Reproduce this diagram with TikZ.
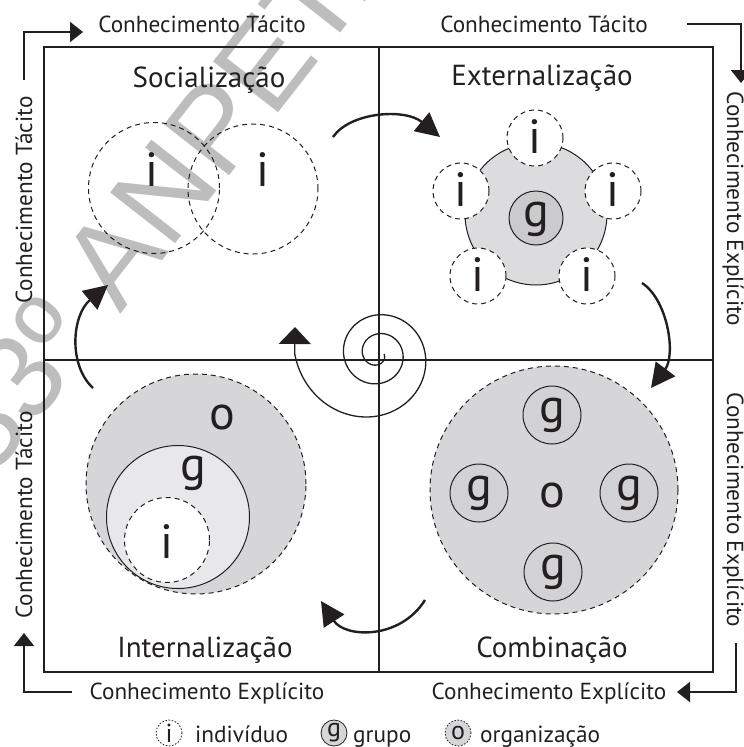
\documentclass[tikz,border=0pt]{standalone}
\usepackage{fontspec}
\setmainfont{PT Sans}
\newfontfamily\wmfont{Liberation Sans}
\usetikzlibrary{arrows.meta}
\definecolor{ink}{HTML}{231F20}
\definecolor{orgfill}{HTML}{D6D6D8}
\definecolor{grpfill}{HTML}{E8E8EA}
\definecolor{extfill}{HTML}{DCDCDE}
\definecolor{extg}{HTML}{CBCBCD}
\definecolor{cgfill}{HTML}{D2D2D4}
\definecolor{wmark}{HTML}{BDBDBD}
\begin{document}
\begin{tikzpicture}[x=1pt,y=-1pt,
  frame/.style={draw=ink, line width=1.3pt},
  axisarr/.style={draw=ink, line width=2pt, line join=miter, -{Triangle[width=20pt,length=13pt]}},
  cyclearr/.style={draw=ink, line width=2.4pt, -{Triangle[width=24pt,length=24pt]}},
  spiralarr/.style={draw=ink, line width=1.3pt, -{Triangle[width=32pt,length=17pt]}},
  dashring/.style={circle, draw=ink, line width=1pt, dash pattern=on 5pt off 4pt, inner sep=0pt},
  solidring/.style={circle, draw=ink, line width=1pt, inner sep=0pt},
  axlabel/.style={font=\fontsize{23.2}{27}\selectfont, text=ink, inner sep=0pt},
  quadtitle/.style={font=\fontsize{29}{34}\selectfont, text=ink, inner sep=0pt, anchor=base},
  bigletter/.style={font=\fontsize{48}{56}\selectfont, text=ink, inner sep=0pt},
  legtext/.style={font=\fontsize{23.3}{27}\selectfont, text=ink, inner sep=0pt, anchor=base west},
  legring/.style={circle, minimum size=26pt, inner sep=0pt, font=\fontsize{26}{30}\selectfont, text=ink},
  wm/.style={font=\wmfont\fontsize{120}{130}\selectfont, text=wmark, inner sep=0pt}
]
\useasboundingbox (0,0) rectangle (744,747);

% ---------- watermark (background) ----------
\node[wm, anchor=base west, rotate=52] (wmk) at (-9,481) {33º ANPET: Vo};

% ---------- frame ----------
\coordinate (fTL) at (44,47);
\coordinate (fBR) at (713,672);
\coordinate (vT) at (379,47);
\coordinate (vB) at (379,672);
\coordinate (hL) at (44,360);
\coordinate (hR) at (713,360);
\draw[frame] (fTL) rectangle (fBR);
\draw[frame] (vT) -- (vB);
\draw[frame] (hL) -- (hR);

% ---------- outer axis arrows ----------
\coordinate (a1a) at (24,80);  \coordinate (a1b) at (24,32);  \coordinate (a1c) at (83,32);
\draw[axisarr] (a1a) -- (a1b) -- (a1c);
\coordinate (a2a) at (687,24); \coordinate (a2b) at (741,24); \coordinate (a2c) at (741,83);
\draw[axisarr] (a2a) -- (a2b) -- (a2c);
\coordinate (a3a) at (736,643); \coordinate (a3b) at (736,692); \coordinate (a3c) at (677,692);
\draw[axisarr] (a3a) -- (a3b) -- (a3c);
\coordinate (a4a) at (72,692); \coordinate (a4b) at (24,692); \coordinate (a4c) at (24,633);
\draw[axisarr] (a4a) -- (a4b) -- (a4c);

% ---------- axis labels ----------
\node[axlabel, anchor=base] (lt1) at (202,32) {Conhecimento Tácito};
\node[axlabel, anchor=base] (lt2) at (544,32) {Conhecimento Tácito};
\node[axlabel, anchor=base] (lb1) at (207,699) {Conhecimento Explícito};
\node[axlabel, anchor=base] (lb2) at (549,699) {Conhecimento Explícito};
\node[axlabel, anchor=base, rotate=90] (ll1) at (32,200) {Conhecimento Tácito};
\node[axlabel, anchor=base, rotate=90] (ll2) at (32,515) {Conhecimento Tácito};
\node[axlabel, anchor=base, rotate=-90] (lr1) at (727,209) {Conhecimento Explícito};
\node[axlabel, anchor=base, rotate=-90] (lr2) at (727,510) {Conhecimento Explícito};

% ---------- quadrant titles ----------
\node[quadtitle] (tsoc) at (209,87) {Socialização};
\node[quadtitle] (text) at (542,85) {Externalização};
\node[quadtitle] (tint) at (205,657) {Internalização};
\node[quadtitle] (tcom) at (552,657) {Combinação};

% ---------- Socialização ----------
\node[dashring, minimum size=131pt] (s1) at (154,188) {};
\node[dashring, minimum size=130pt] (s2) at (253,189) {};
\node[bigletter] (s1i) at (152,170) {i};
\node[bigletter] (s2i) at (263,170) {i};

% ---------- Externalização ----------
\node[circle, draw=ink, line width=1pt, fill=extfill, minimum size=142pt, inner sep=0pt] (edisk) at (536,214) {};
\node[dashring, fill=white, minimum size=56pt] (e1) at (535,138) {};
\node[dashring, fill=white, minimum size=56pt] (e2) at (461,191) {};
\node[dashring, fill=white, minimum size=56pt] (e3) at (613,191) {};
\node[dashring, fill=white, minimum size=56pt] (e4) at (478,276) {};
\node[dashring, fill=white, minimum size=56pt] (e5) at (587,276) {};
\node[bigletter] (e1i) at (535,137) {i};
\node[bigletter] (e2i) at (461,190) {i};
\node[bigletter] (e3i) at (613,190) {i};
\node[bigletter] (e4i) at (478,275) {i};
\node[bigletter] (e5i) at (587,275) {i};
\node[solidring, fill=extg, minimum size=54pt] (eg) at (536,218) {};
\node[bigletter] (egt) at (536,219) {g};

% ---------- Combinação ----------
\node[dashring, fill=orgfill, minimum size=248pt] (co) at (554,490) {};
\node[solidring, fill=cgfill, minimum size=58pt] (cg1) at (552,415) {};
\node[solidring, fill=cgfill, minimum size=58pt] (cg2) at (479,493) {};
\node[solidring, fill=cgfill, minimum size=58pt] (cg3) at (629,493) {};
\node[solidring, fill=cgfill, minimum size=58pt] (cg4) at (553,572) {};
\node[bigletter] (cg1t) at (552,415) {g};
\node[bigletter] (cg2t) at (479,493) {g};
\node[bigletter] (cg3t) at (629,493) {g};
\node[bigletter] (cg4t) at (553,572) {g};
\node[bigletter] (cot) at (552,495) {o};

% ---------- Internalização ----------
\node[dashring, fill=orgfill, minimum size=220pt] (io) at (196,484) {};
\node[solidring, fill=grpfill, minimum size=143pt] (ig) at (178,517) {};
\node[dashring, fill=white, minimum size=85pt] (ii) at (167,540) {};
\node[bigletter] (iot) at (222,417) {o};
\node[bigletter] (igt) at (193,473) {g};
\node[bigletter] (iit) at (167,542) {i};

% ---------- cycle arrows ----------
\coordinate (c1s) at (333,137); \coordinate (c1e) at (440,137);
\draw[cyclearr] (c1s) .. controls (350,112) and (405,108) .. (c1e);
\coordinate (c2s) at (642,283); \coordinate (c2e) at (651,388);
\draw[cyclearr] (c2s) .. controls (668,300) and (676,355) .. (c2e);
\coordinate (c3s) at (425,600); \coordinate (c3e) at (321,601);
\draw[cyclearr] (c3s) .. controls (400,640) and (345,638) .. (c3e);
\coordinate (c4s) at (93,388); \coordinate (c4e) at (108,285);
\draw[cyclearr] (c4s) .. controls (68,365) and (72,315) .. (c4e);

% ---------- spiral ----------
\coordinate (spc) at (378,354);
\coordinate (spe) at (295,327);
\draw[spiralarr] plot[domain=0:900, samples=360, variable=\t, smooth]
  ({378+(6+\t/19+4.1*((max(0,\t-630))/100)^2)*cos(\t)},
   {354+(6+\t/19+4.1*((max(0,\t-630))/100)^2)*sin(\t)}) -- (spe);

% ---------- legend ----------
\node[legring, draw=ink, line width=0.8pt, dash pattern=on 1.6pt off 1.6pt, fill=white] (li) at (169,733) {i};
\node[legtext] (lit) at (195,742) {indivíduo};
\node[legring, draw=ink, line width=0.8pt, fill=orgfill] (lg) at (334,733) {g};
\node[legtext] (lgt) at (353,742) {grupo};
\node[legring, draw=ink, line width=0.8pt, dash pattern=on 1.6pt off 1.6pt, fill=orgfill] (lo) at (458,733) {o};
\node[legtext] (lot) at (480,742) {organização};
\end{tikzpicture}
\end{document}
